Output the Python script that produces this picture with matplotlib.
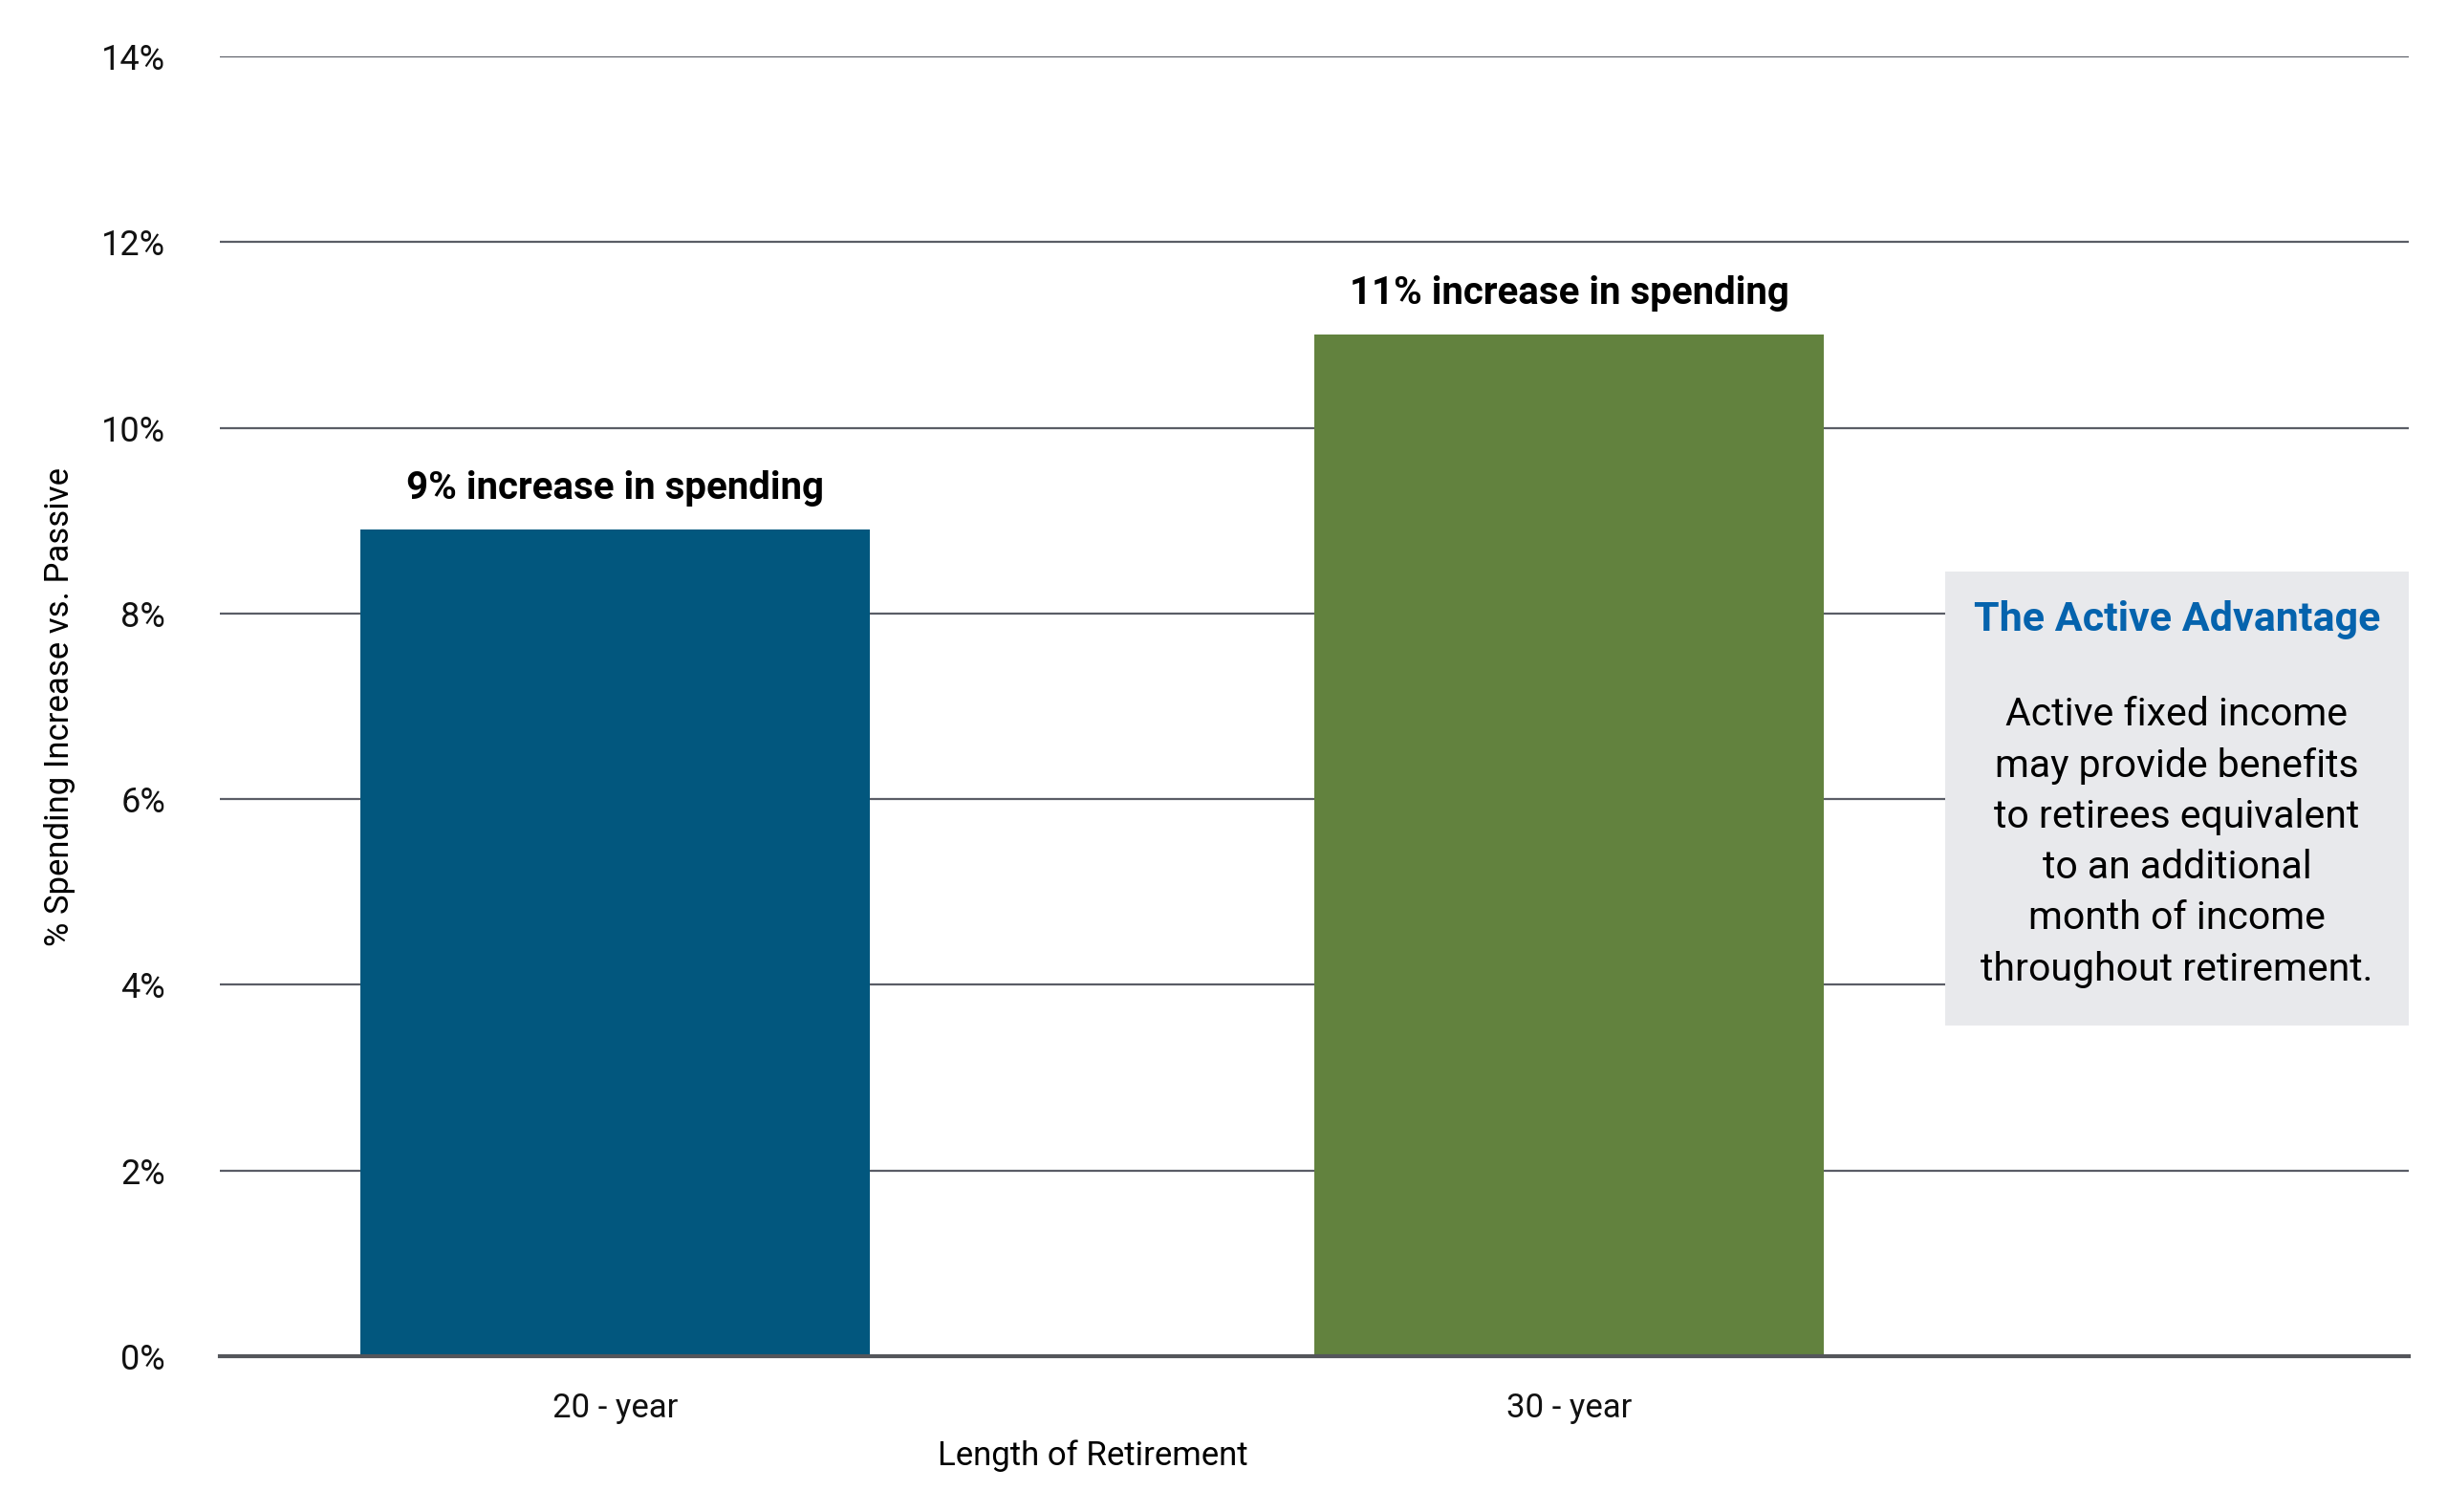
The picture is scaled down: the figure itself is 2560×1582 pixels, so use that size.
import matplotlib
matplotlib.use("Agg")
import matplotlib.pyplot as plt
from matplotlib.patches import Rectangle

categories = ["20 - year", "30 - year"]
values = [8.9, 11.0]
bar_labels = ["9% increase in spending", "11% increase in spending"]
bar_colors = ["#02577E", "#62823E"]
yticks = [0, 2, 4, 6, 8, 10, 12, 14]
ytick_labels = ["0%", "2%", "4%", "6%", "8%", "10%", "12%", "14%"]
box_title = "The Active Advantage"
box_body = ("Active fixed income\nmay provide benefits\nto retirees equivalent\n"
            "to an additional\nmonth of income\nthroughout retirement.")

plt.rcParams["font.family"] = ["Roboto", "DejaVu Sans"]

W, H = 2560, 1582
fig = plt.figure(figsize=(W / 100, H / 100), dpi=100)
ax = fig.add_axes([230 / W, 1 - 1419 / H, (2520 - 230) / W, (1419 - 59) / H])

x = list(range(len(categories)))
ax.bar(x, values, width=0.534, color=bar_colors, zorder=3)
for xi, v, lab in zip(x, values, bar_labels):
    ax.annotate(lab, (xi, v), xytext=(0, 24), textcoords="offset pixels",
                ha="center", va="bottom", fontsize=29, fontweight="bold", color="black")

ax.set_xlim(-0.414, 1.88)
ax.set_ylim(0, 14)
ax.set_yticks(yticks)
ax.set_yticklabels(ytick_labels, fontsize=26, color="#111111")
ax.set_xticks(x)
ax.set_xticklabels(categories, fontsize=25, color="#111111")
ax.tick_params(axis="both", length=0)
ax.tick_params(axis="y", pad=41)
ax.tick_params(axis="x", pad=27)
ax.yaxis.grid(True, color="#5a5d66", linewidth=1.6, zorder=0)
ax.set_axisbelow(True)
for s in ["top", "right", "left"]:
    ax.spines[s].set_visible(False)
ax.spines["bottom"].set_color("#54565b")
ax.spines["bottom"].set_linewidth(3)
ax.spines["bottom"].set_zorder(4)

ax.set_xlabel("Length of Retirement", fontsize=25, color="black")
ax.xaxis.set_label_coords(0.399, -0.064)
ax.set_ylabel("% Spending Increase vs. Passive", fontsize=25, color="black")
ax.yaxis.set_label_coords(-0.066, 0.5)

# Callout box
bx0, bx1, by0, by1 = 2035, 2520, 598, 1073
fig.patches.append(Rectangle((bx0 / W, 1 - by1 / H), (bx1 - bx0) / W, (by1 - by0) / H,
                             transform=fig.transFigure, facecolor="#E8E9EC",
                             edgecolor="none", zorder=5))
cx = (bx0 + bx1) / 2 / W
fig.text(cx, 1 - 648 / H, box_title, ha="center", va="center", fontsize=31,
         fontweight="bold", color="#0563AD", zorder=6)
fig.text(cx, 1 - 881 / H, box_body, ha="center", va="center", fontsize=29.5,
         color="black", linespacing=1.46, zorder=6)

fig.savefig("out.png", dpi=100, facecolor="white")
